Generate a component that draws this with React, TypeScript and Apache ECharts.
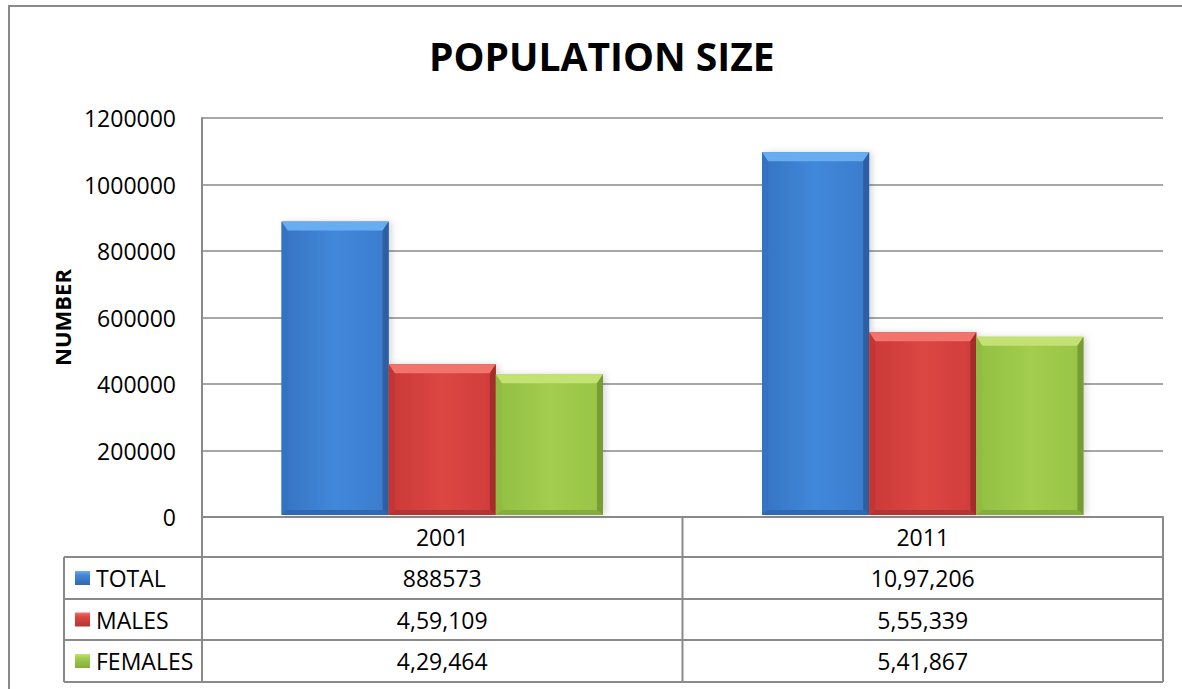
import React, { useEffect, useRef } from "react";
import * as echarts from "echarts";

const categories = ["2001", "2011"];
const seriesNames = ["TOTAL", "MALES", "FEMALES"];
const totalValues = [888573, 1097206];
const maleValues = [459109, 555339];
const femaleValues = [429464, 541867];
const totalLabels = ["888573", "10,97,206"];
const maleLabels = ["4,59,109", "5,55,339"];
const femaleLabels = ["4,29,464", "5,41,867"];
const yMin = 0;
const yMax = 1200000;
const yInterval = 200000;

const W = 1182;
const H = 689;
const GRID_LEFT = 202;
const GRID_RIGHT = 1163;
const GRID_TOP = 118;
const ZERO_Y = 517;
const ROW_Y = [517, 557, 599, 640, 682];
const TABLE_LEFT = 64;
const LINE = "#8a8a8a";
const FONT = "'Open Sans', 'Liberation Sans', sans-serif";
const BAR_FRAC = 0.223;

const palettes = [
  { body: ["#3573c2", "#4288da", "#3a7bcc"], top: "#68adf0", left: "#3472c2", right: "#2d5fa2", bottom: "#3068b0" },
  { body: ["#c93936", "#dc4643", "#d03d3a"], top: "#f2726c", left: "#c13533", right: "#a52c2a", bottom: "#b33533" },
  { body: ["#92bf42", "#a2cd4e", "#98c446"], top: "#c4e273", left: "#8fbb40", right: "#789c35", bottom: "#86ab3e" },
];

const allValues = [totalValues, maleValues, femaleValues];
const allLabels = [totalLabels, maleLabels, femaleLabels];

function makeRender(sIdx: number) {
  const p = palettes[sIdx];
  return (params: any, api: any) => {
    const cat = api.value(0);
    const val = api.value(1);
    const top = api.coord([cat, val]);
    const base = api.coord([cat, 0]);
    const catW = api.size([1, 0])[0];
    const bw = catW * BAR_FRAC;
    const x0 = top[0] + (sIdx - 1) * bw - bw / 2;
    const x1 = x0 + bw;
    const y0 = top[1];
    const y1 = base[1] - 2;
    const bt = 9;
    const bs = 6;
    const bb = 5;
    return {
      type: "group",
      children: [
        {
          type: "rect",
          shape: { x: x0, y: y0, width: bw, height: y1 - y0 },
          style: {
            fill: new echarts.graphic.LinearGradient(0, 0, 1, 0, [
              { offset: 0, color: p.body[0] },
              { offset: 0.5, color: p.body[1] },
              { offset: 1, color: p.body[2] },
            ]),
            shadowBlur: 6,
            shadowOffsetX: 3,
            shadowColor: "rgba(0,0,0,0.15)",
          },
        },
        {
          type: "polygon",
          shape: { points: [[x0, y0], [x1, y0], [x1 - bs, y0 + bt], [x0 + bs, y0 + bt]] },
          style: { fill: p.top },
        },
        {
          type: "polygon",
          shape: { points: [[x0, y0], [x0 + bs, y0 + bt], [x0 + bs, y1 - bb], [x0, y1]] },
          style: { fill: p.left, opacity: 0.8 },
        },
        {
          type: "polygon",
          shape: { points: [[x1, y0], [x1, y1], [x1 - bs, y1 - bb], [x1 - bs, y0 + bt]] },
          style: { fill: p.right },
        },
        {
          type: "polygon",
          shape: { points: [[x0, y1], [x0 + bs, y1 - bb], [x1 - bs, y1 - bb], [x1, y1]] },
          style: { fill: p.bottom },
        },
      ],
    };
  };
}

export default function App() {
  const ref = useRef<HTMLDivElement>(null);
  useEffect(() => {
    if (!ref.current) return;
    const chart = echarts.init(ref.current, null, { renderer: "svg" });

    const graphics: any[] = [];
    graphics.push({
      type: "rect",
      shape: { x: 9, y: 6, width: 1200, height: 720 },
      style: { fill: "none", stroke: LINE, lineWidth: 2 },
      z: 10,
    });
    ROW_Y.forEach((y, i) => {
      if (i === 0) return;
      graphics.push({
        type: "line",
        shape: { x1: TABLE_LEFT, y1: y, x2: GRID_RIGHT, y2: y },
        style: { stroke: LINE, lineWidth: 2 },
        z: 10,
      });
    });
    const midX = (GRID_LEFT + GRID_RIGHT) / 2;
    [GRID_LEFT, midX, GRID_RIGHT].forEach((x) => {
      graphics.push({
        type: "line",
        shape: { x1: x, y1: ROW_Y[0], x2: x, y2: ROW_Y[4] },
        style: { stroke: LINE, lineWidth: 2 },
        z: 10,
      });
    });
    graphics.push({
      type: "line",
      shape: { x1: TABLE_LEFT, y1: ROW_Y[1], x2: TABLE_LEFT, y2: ROW_Y[4] },
      style: { stroke: LINE, lineWidth: 2 },
      z: 10,
    });
    const colW = (GRID_RIGHT - GRID_LEFT) / categories.length;
    seriesNames.forEach((name, r) => {
      const cy = (ROW_Y[r + 1] + ROW_Y[r + 2]) / 2;
      const p = palettes[r];
      graphics.push({
        type: "rect",
        shape: { x: 75, y: cy - 7, width: 15, height: 14 },
        style: {
          fill: new echarts.graphic.LinearGradient(0, 0, 0, 1, [
            { offset: 0, color: p.top },
            { offset: 0.3, color: p.body[1] },
            { offset: 1, color: p.bottom },
          ]),
        },
        z: 10,
      });
      graphics.push({
        type: "text",
        x: 96,
        y: cy,
        style: { text: name, font: `23px ${FONT}`, fill: "#000", align: "left", verticalAlign: "middle" },
        z: 10,
      });
      categories.forEach((c, ci) => {
        graphics.push({
          type: "text",
          x: GRID_LEFT + colW * (ci + 0.5),
          y: cy,
          style: {
            text: allLabels[r][ci],
            font: `23px ${FONT}`,
            fill: "#000",
            align: "center",
            verticalAlign: "middle",
          },
          z: 10,
        });
      });
    });

    chart.setOption({
      animation: false,
      backgroundColor: "#fff",
      title: {
        text: "POPULATION SIZE",
        left: 424,
        top: 31,
        textStyle: { fontFamily: FONT, fontWeight: "bold", fontSize: 39, color: "#000" },
      },
      grid: {
        left: GRID_LEFT,
        top: GRID_TOP,
        width: GRID_RIGHT - GRID_LEFT,
        height: ZERO_Y - GRID_TOP,
        containLabel: false,
      },
      xAxis: {
        type: "category",
        data: categories,
        axisLine: { show: true, lineStyle: { color: LINE, width: 2 } },
        axisTick: { show: false },
        axisLabel: { fontFamily: FONT, fontSize: 23, color: "#000", margin: 8 },
        splitLine: { show: false },
      },
      yAxis: {
        type: "value",
        min: yMin,
        max: yMax,
        interval: yInterval,
        name: "NUMBER",
        nameLocation: "middle",
        nameRotate: 90,
        nameGap: 115,
        nameTextStyle: { fontFamily: FONT, fontWeight: "bold", fontSize: 22, color: "#000" },
        axisLine: { show: true, lineStyle: { color: LINE, width: 2 } },
        axisTick: { show: false },
        axisLabel: {
          fontFamily: FONT,
          fontSize: 23,
          color: "#000",
          margin: 26,
          formatter: (v: number) => String(v),
        },
        splitLine: { show: true, lineStyle: { color: LINE, width: 1.5 } },
      },
      series: seriesNames.map((name, sIdx) => ({
        type: "custom",
        name,
        renderItem: makeRender(sIdx),
        data: allValues[sIdx].map((v, i) => [i, v]),
        encode: { x: 0, y: 1 },
        z: 5,
      })),
      graphic: graphics,
    });
    return () => chart.dispose();
  }, []);
  return (
    <div
      ref={ref}
      style={{ position: "absolute", left: 0, top: 0, width: W, height: H, background: "#fff" }}
    />
  );
}
